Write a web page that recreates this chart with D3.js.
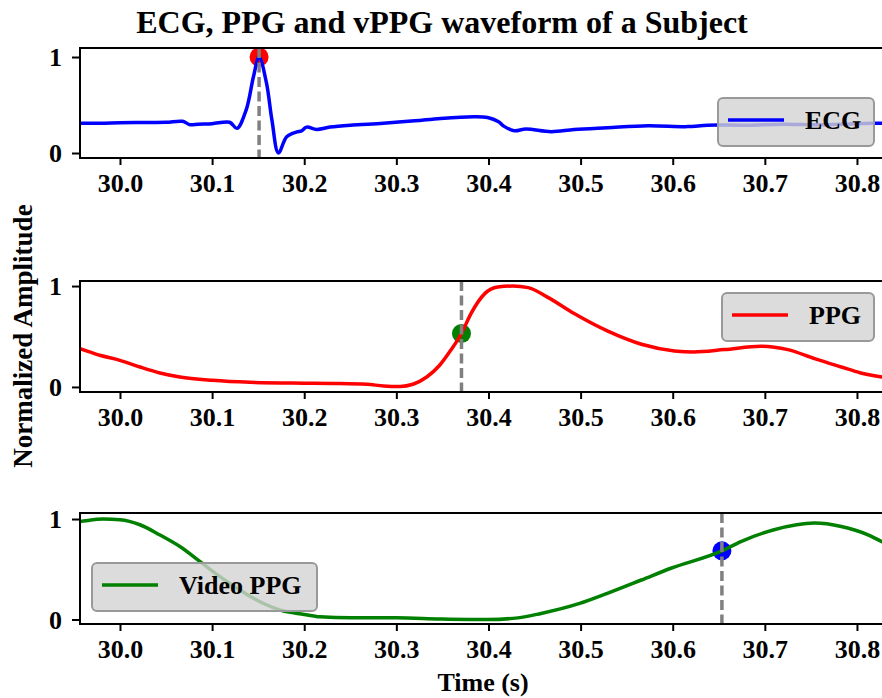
<!DOCTYPE html>
<html>
<head>
<meta charset="utf-8">
<script src="https://cdn.jsdelivr.net/npm/d3@7"></script>
<style>
  body { margin: 0; background: #fff; }
  svg text { font-family: "Liberation Serif", "Times New Roman", serif; font-weight: bold; fill: #000; }
</style>
</head>
<body>
<div id="chart"></div>
<script>
// Values
var ecgTime = [29.950, 29.978, 30.000, 30.025, 30.050, 30.068, 30.076, 30.085, 30.100, 30.119, 30.127,
               30.137, 30.145, 30.151, 30.159, 30.165, 30.172, 30.181, 30.192, 30.197, 30.2025, 30.2135,
               30.228, 30.250, 30.286, 30.320, 30.348, 30.384, 30.399, 30.411, 30.4166, 30.428, 30.4407,
               30.468, 30.493, 30.529, 30.573, 30.616, 30.638, 30.680, 30.720, 30.760, 30.818, 30.845];
var ecgValue = [0.31, 0.31, 0.315, 0.318, 0.32, 0.33, 0.295, 0.30, 0.305, 0.32, 0.257,
                0.45, 0.80, 1.00, 0.73, 0.34, 0.00, 0.17, 0.22, 0.23, 0.27, 0.245,
                0.27, 0.29, 0.31, 0.335, 0.36, 0.378, 0.37, 0.326, 0.28, 0.232, 0.25,
                0.222, 0.245, 0.264, 0.285, 0.275, 0.29, 0.29, 0.30, 0.295, 0.31, 0.31];

var ppgTime = [29.950, 29.9566, 29.978, 30.000, 30.0217, 30.0434, 30.065, 30.100, 30.141, 30.200, 30.231,
               30.268, 30.286, 30.304, 30.318, 30.333, 30.347, 30.359, 30.3707, 30.381, 30.396, 30.410,
               30.4265, 30.443, 30.464, 30.493, 30.529, 30.566, 30.602, 30.623, 30.656, 30.696, 30.725,
               30.754, 30.783, 30.804, 30.827, 30.845];
var ppgValue = [0.40, 0.38, 0.314, 0.264, 0.198, 0.139, 0.099, 0.066, 0.046, 0.037, 0.034,
                0.027, 0.010, 0.005, 0.027, 0.099, 0.215, 0.363, 0.53, 0.727, 0.925, 0.99,
                1.00, 0.984, 0.89, 0.727, 0.555, 0.423, 0.357, 0.347, 0.37, 0.403, 0.37,
                0.281, 0.198, 0.139, 0.099, 0.08];

var vppgTime = [29.950, 29.9566, 29.982, 30.000, 30.0217, 30.043, 30.065, 30.087, 30.1085, 30.130, 30.152,
                30.174, 30.200, 30.217, 30.250, 30.300, 30.347, 30.400, 30.432, 30.457, 30.499, 30.529,
                30.566, 30.598, 30.6534, 30.674, 30.710, 30.754, 30.783, 30.812, 30.827, 30.845];
var vppgValue = [0.97, 0.976, 1.00, 0.993, 0.943, 0.843, 0.726, 0.576, 0.426, 0.293, 0.176,
                 0.093, 0.05, 0.026, 0.016, 0.016, 0.006, 0.0, 0.016, 0.06, 0.16, 0.26,
                 0.393, 0.51, 0.683, 0.776, 0.893, 0.96, 0.926, 0.843, 0.776, 0.72];

// detected peaks / markers
var peakTime = [30.151, 30.3707, 30.6534];
var peakValue = [1.0, 0.53, 0.683];

var seriesNames = ["ECG", "PPG", "Video PPG"];
var seriesColors = ["#0000ff", "#ff0000", "#008000"];
var markerColors = ["#ff0000", "#008000", "#0000ff"];
var xTicks = [30.0, 30.1, 30.2, 30.3, 30.4, 30.5, 30.6, 30.7, 30.8];
var yTicks = [0, 1];

var width = 882, height = 698;
var svg = d3.select("#chart").append("svg")
    .attr("width", width)
    .attr("height", height);

var xScale = d3.scaleLinear()
    .domain([29.9566, 30.8402])
    .range([80, 894]);

// panel layout (pixel boxes) and y limits
var panels = [
    {time: ecgTime, value: ecgValue, top: 48, h: 110, ylim: [-0.052, 1.094],
     curve: d3.curveCatmullRom.alpha(0.5), legend: {x: 718, y: 98, w: 156}},
    {time: ppgTime, value: ppgValue, top: 281, h: 111, ylim: [-0.05, 1.05],
     curve: d3.curveMonotoneX, legend: {x: 722, y: 293, w: 152}},
    {time: vppgTime, value: vppgValue, top: 513, h: 111, ylim: [-0.045, 1.06],
     curve: d3.curveMonotoneX, legend: {x: 92, y: 563, w: 225}}
];

svg.append("text")
    .attr("x", 442)
    .attr("y", 33)
    .attr("text-anchor", "middle")
    .style("font-size", "32px")
    .text("ECG, PPG and vPPG waveform of a Subject");

panels.forEach(function(p, i){
    var yScale = d3.scaleLinear().domain(p.ylim).range([p.top + p.h, p.top]);
    var g = svg.append("g").attr("class", "panel");

    g.append("clipPath").attr("id", "clip" + i)
      .append("rect")
        .attr("x", xScale.range()[0]).attr("y", p.top)
        .attr("width", xScale.range()[1] - xScale.range()[0]).attr("height", p.h);

    var plot = g.append("g").attr("clip-path", "url(#clip" + i + ")");

    // peak marker (below the line, as in matplotlib)
    plot.append("circle")
        .attr("cx", xScale(peakTime[i]))
        .attr("cy", yScale(peakValue[i]))
        .attr("r", 9.5)
        .attr("fill", markerColors[i]);

    var line = d3.line()
        .x(function(d){ return xScale(d[0]); })
        .y(function(d){ return yScale(d[1]); })
        .curve(p.curve);

    plot.append("path")
        .datum(d3.zip(p.time, p.value))
        .attr("d", line)
        .attr("fill", "none")
        .attr("stroke", seriesColors[i])
        .attr("stroke-width", 3.5)
        .attr("stroke-linejoin", "round");

    // dashed vertical line at the peak
    plot.append("line")
        .attr("x1", xScale(peakTime[i])).attr("x2", xScale(peakTime[i]))
        .attr("y1", p.top).attr("y2", p.top + p.h)
        .attr("stroke", "#808080")
        .attr("stroke-width", 3.5)
        .attr("stroke-dasharray", "10,4.5");

    // axes
    var xAxis = d3.axisBottom(xScale).tickValues(xTicks)
        .tickFormat(d3.format(".1f")).tickSize(7).tickPadding(9);
    var gx = g.append("g")
        .attr("transform", "translate(0," + (p.top + p.h) + ")")
        .call(xAxis);
    var yAxis = d3.axisLeft(yScale).tickValues(yTicks)
        .tickFormat(d3.format("d")).tickSize(8).tickPadding(10);
    var gy = g.append("g")
        .attr("transform", "translate(" + xScale.range()[0] + ",0)")
        .call(yAxis);
    [gx, gy].forEach(function(a){
        a.select(".domain").remove();
        a.selectAll(".tick line").attr("stroke", "#000").attr("stroke-width", 2);
        a.selectAll(".tick text").style("font-size", "26px").attr("fill", "#000");
    });
    gy.selectAll(".tick text").attr("dy", "0.34em");

    // frame
    g.append("rect")
        .attr("x", xScale.range()[0]).attr("y", p.top)
        .attr("width", xScale.range()[1] - xScale.range()[0]).attr("height", p.h)
        .attr("fill", "none").attr("stroke", "#000").attr("stroke-width", 2);

    // legend
    var lg = g.append("g").attr("transform", "translate(" + p.legend.x + "," + p.legend.y + ")");
    lg.append("rect")
        .attr("width", p.legend.w).attr("height", 48)
        .attr("rx", 5).attr("ry", 5)
        .attr("fill", "#d3d3d3").attr("fill-opacity", 0.8)
        .attr("stroke", "#999").attr("stroke-width", 2);
    lg.append("line")
        .attr("x1", 10).attr("x2", 66)
        .attr("y1", 22).attr("y2", 22)
        .attr("stroke", seriesColors[i]).attr("stroke-width", 3.5);
    lg.append("text")
        .attr("x", 87).attr("y", 31)
        .style("font-size", "26px")
        .text(seriesNames[i]);
});

svg.append("text")
    .attr("x", 483)
    .attr("y", 691)
    .attr("text-anchor", "middle")
    .style("font-size", "26px")
    .text("Time (s)");

svg.append("text")
    .attr("transform", "translate(32,336) rotate(-90)")
    .attr("text-anchor", "middle")
    .style("font-size", "27px")
    .text("Normalized Amplitude");
</script>
</body>
</html>
